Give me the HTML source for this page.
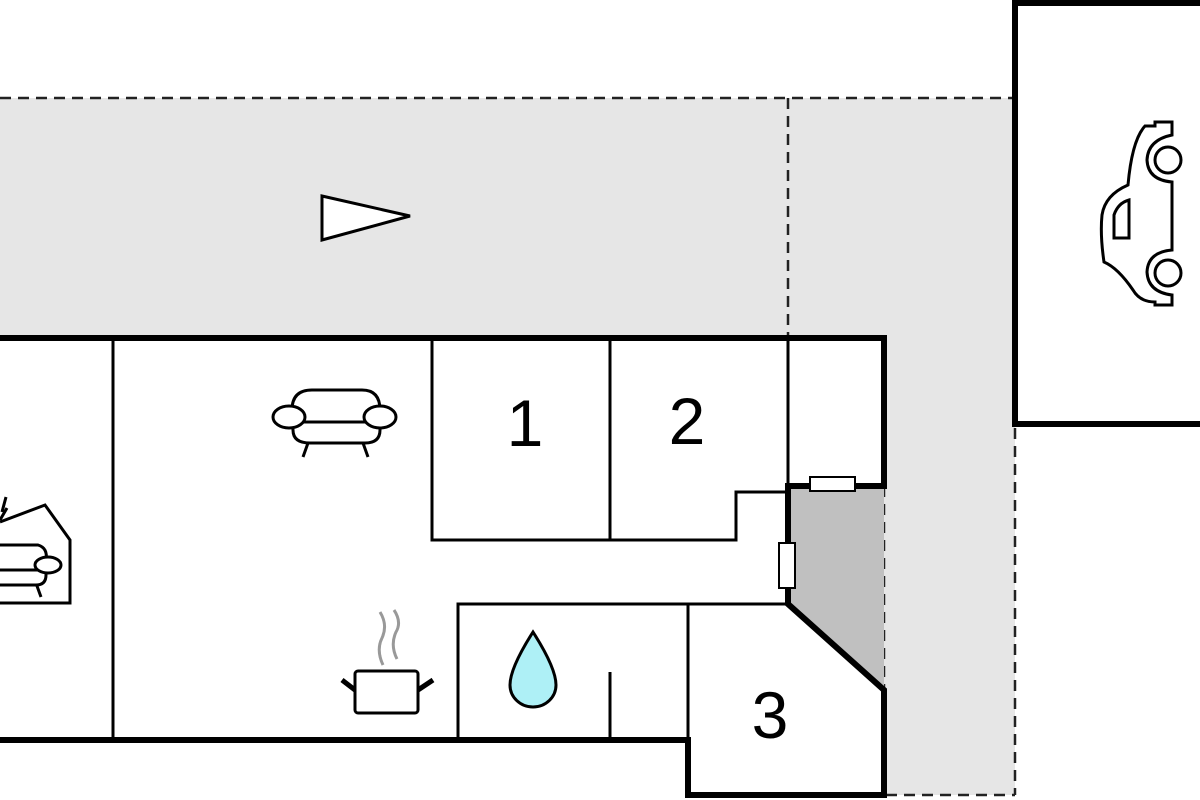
<!DOCTYPE html>
<html><head><style>html,body{margin:0;padding:0;background:#fff;width:1200px;height:800px;overflow:hidden}</style></head>
<body>
<svg width="1200" height="800" viewBox="0 0 1200 800" xmlns="http://www.w3.org/2000/svg">
<rect width="1200" height="800" fill="#fff"/>
<rect x="0" y="98" width="1015" height="240" fill="#e6e6e6"/>
<rect x="884" y="338" width="131" height="457" fill="#e6e6e6"/>
<path d="M0 98 H1012 M788 98 V338 M1015 428 V795 M886 795 H1015" stroke="#222" stroke-width="2.5" stroke-dasharray="11 7" fill="none"/>
<path d="M884 486 V690" stroke="#222" stroke-width="2.5" stroke-dasharray="11 7"/>
<rect x="1015" y="3" width="200" height="421" fill="#fff" stroke="#000" stroke-width="6"/>
<polygon points="0,338 884,338 884,486 788,486 788,604 884,690 884,795 688,795 688,740 0,740" fill="#fff"/>
<polygon points="788,486 884,486 884,690 788,604" fill="#c0c0c0"/>
<g stroke="#000" stroke-width="3" fill="none">
<path d="M113 338 V740"/>
<path d="M432 338 V540 H736 V492 H788"/>
<path d="M610 338 V540"/>
<path d="M788 338 V486"/>
<path d="M458 740 V604 H788"/>
<path d="M688 604 V740"/>
<path d="M610 672 V740"/>
</g>
<g stroke="#000" stroke-width="6" fill="none" stroke-linejoin="miter">
<path d="M0 338 H884 V486 H788 V604 L884 690 V795 H688 V740 H0"/>
</g>
<rect x="810" y="477" width="45" height="14" fill="#fff" stroke="#000" stroke-width="2"/>
<rect x="779" y="543" width="16" height="45" fill="#fff" stroke="#000" stroke-width="2"/>
<polygon points="322,196 410,216 322,240" fill="#fff" stroke="#000" stroke-width="3"/>
<g font-family="Liberation Sans, sans-serif" font-size="66" fill="#000" text-anchor="middle">
<text x="525" y="446">1</text>
<text x="687" y="444">2</text>
<text x="770" y="738">3</text>
</g>
<g stroke="#000" stroke-width="3" fill="#fff">
<path d="M292 410 Q292 390 312 390 H362 Q380 390 380 410 V430 Q380 443 365 443 H310 Q293 443 293 430 Z"/>
<line x1="302" y1="422" x2="373" y2="422"/>
<ellipse cx="289" cy="417" rx="16" ry="11"/>
<ellipse cx="380" cy="417" rx="16" ry="11"/>
<path d="M308 443 L303 457 M363 443 L368 457" fill="none"/>
</g>
<g stroke="#000" stroke-width="3" fill="#fff">
<path d="M0 522 L45 505 L70 540 V603 H0" />
<path d="M0 545 H38 Q48 548 46 560 V575 Q46 585 36 585 H0" />
<line x1="0" y1="570" x2="42" y2="570"/>
<ellipse cx="48" cy="565" rx="13" ry="8"/>
<path d="M37 586 L41 597 M0 520 L7 508 M2 512 L6 497" fill="none"/>
</g>
<g stroke="#000" stroke-width="3" fill="#fff">
<rect x="355" y="671" width="63" height="42" rx="3"/>
<path d="M355 690 L342 680 M418 690 L433 680" stroke-width="5"/>
</g>
<path d="M383 665 Q376 650 382 638 Q388 625 380 612 M397 659 Q390 645 396 632 Q402 622 394 610" stroke="#999" stroke-width="3" fill="none"/>
<path d="M533 632 Q510 668 510 685 A23 22 0 0 0 556 685 Q556 668 533 632 Z" fill="#aef0f6" stroke="#000" stroke-width="3"/>
<g stroke="#000" stroke-width="3" fill="#fff">
<path d="M1172 125 V135 Q1148 140 1147 160 Q1148 180 1172 182 V250 Q1148 252 1147 272 Q1148 292 1172 295 V305 H1155 V302 Q1140 302 1133 290 Q1118 268 1104 262 Q1100 235 1102 215 Q1105 195 1128 185 Q1132 140 1145 126 H1155 V122 H1172 Z"/>
<circle cx="1168" cy="160" r="13"/>
<circle cx="1168" cy="273" r="13"/>
<path d="M1114 238 V215 Q1118 203 1129 200 V238 Z"/>
</g>
</svg>
</body></html>
